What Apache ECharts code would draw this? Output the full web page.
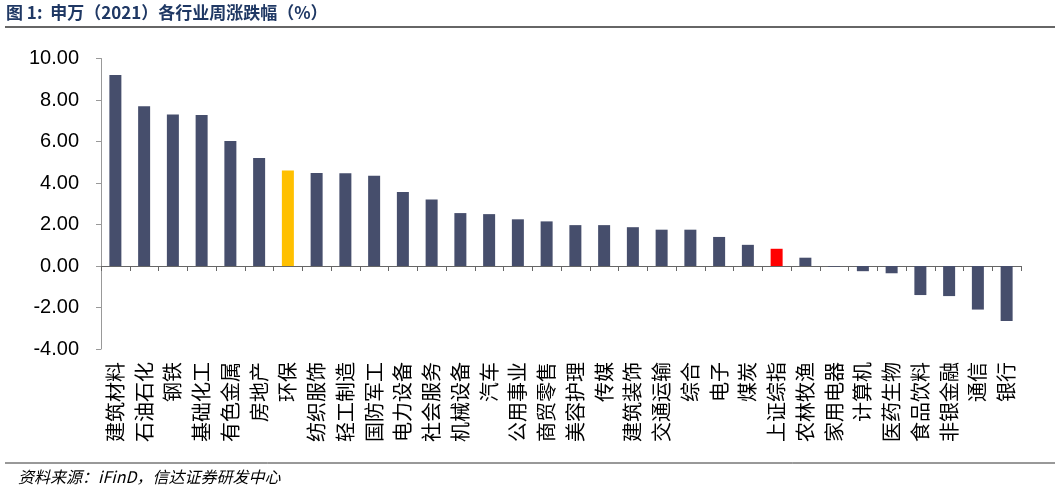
<!DOCTYPE html>
<html><head><meta charset="utf-8">
<script src="https://cdn.jsdelivr.net/npm/echarts@6/dist/echarts.min.js"></script>
<style>html,body{margin:0;padding:0;background:#fff}#c{width:1060px;height:494px}</style>
</head><body><div id="c"></div>
<script>
const categories = ['建筑材料','石油石化','钢铁','基础化工','有色金属','房地产','环保','纺织服饰','轻工制造','国防军工','电力设备','社会服务','机械设备','汽车','公用事业','商贸零售','美容护理','传媒','建筑装饰','交通运输','综合','电子','煤炭','上证综指','农林牧渔','家用电器','计算机','医药生物','食品饮料','非银金融','通信','银行'];
const values = [9.2,7.7,7.3,7.28,6.02,5.2,4.6,4.48,4.47,4.35,3.57,3.2,2.55,2.5,2.25,2.15,1.97,1.97,1.87,1.75,1.75,1.4,1.02,0.83,0.4,-0.03,-0.25,-0.35,-1.4,-1.45,-2.1,-2.65];
const highlightYellow = ['环保'];
const highlightRed = ['上证综指'];
const yTicks = {min:-4, max:10, interval:2};
const titleText = '图 1:  申万（2021）各行业周涨跌幅（%）';
const sourceText = '资料来源：iFinD，信达证券研发中心';

const chart = echarts.init(document.getElementById('c'));
const data = values.map((v,i)=>{
  const c = categories[i];
  let color = '#464E6C';
  if (highlightYellow.includes(c)) color = '#FFC000';
  if (highlightRed.includes(c)) color = '#FF0000';
  return {value:v, itemStyle:{color}};
});
chart.setOption({
  animation:false,
  grid:{left:101, right:39, top:58.5, bottom:145, containLabel:false},
  xAxis:[{
    type:'category', data:categories,
    axisLine:{onZero:true, lineStyle:{color:'#666', width:1}},
    axisTick:{show:true, interval:0, length:5, lineStyle:{color:'#666'}},
    axisLabel:{show:false}
  },{
    type:'category', data:categories, position:'bottom',
    axisLine:{show:false}, axisTick:{show:false},
    axisLabel:{interval:0, rotate:90, margin:13, fontSize:20, color:'#000', fontFamily:'Noto Sans CJK SC'}
  }],
  yAxis:{
    type:'value', min:yTicks.min, max:yTicks.max, interval:yTicks.interval,
    splitLine:{show:false},
    axisLine:{show:true, lineStyle:{color:'#999'}},
    axisTick:{show:true, length:5, lineStyle:{color:'#999'}},
    axisLabel:{formatter:v=>v.toFixed(2), fontSize:20, color:'#000', margin:22, fontFamily:'Liberation Sans'}
  },
  series:[{type:'bar', data, barWidth:12, xAxisIndex:0}],
  graphic:[
    {type:'text', left:6, top:4, style:{text:titleText, font:'bold 17px "Noto Sans CJK SC"', fill:'#1F3864'}},
    {type:'line', shape:{x1:5, y1:27, x2:1055, y2:27}, style:{stroke:'#333', lineWidth:1.5}},
    {type:'line', shape:{x1:5, y1:463, x2:1055, y2:463}, style:{stroke:'#333', lineWidth:1}},
    {type:'text', left:18, top:469, style:{text:sourceText, font:'italic 16px "Noto Sans CJK SC"', fill:'#000'}}
  ]
});
</script></body></html>
